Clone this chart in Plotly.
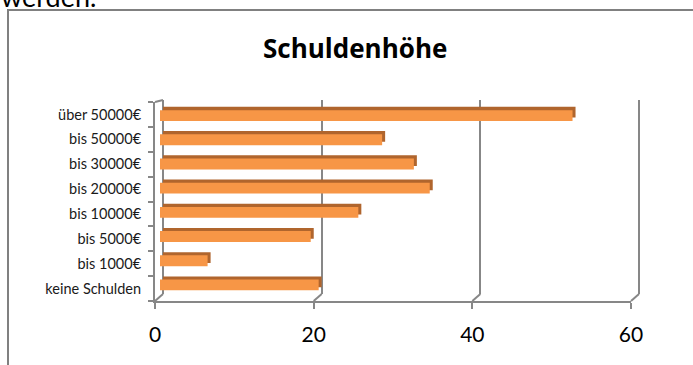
import plotly.graph_objects as go

# Debt level categories (bottom to top) and number of answers
categories = ["keine Schulden", "bis 1000€", "bis 5000€", "bis 10000€",
              "bis 20000€", "bis 30000€", "bis 50000€", "über 50000€"]
values = [20, 6, 19, 25, 34, 32, 28, 52]
x_ticks = [0, 20, 40, 60]

W, H = 693, 365
FONT = "Lato"
GREY = "#878787"
FACE = "#F79646"
DEPTH = "#B0652D"


def px(x):
    return x / W


def py(y):
    return 1 - y / H


X_MAX = 60
# front edge of the floor, back wall and bar planes (pixel spans)
FRONT_X = (155, 631)
BACK_X = (163, 639)
FRONT_Y = (301, 102)
BACK_Y = (294, 100)


def front_px(v):
    return FRONT_X[0] + (FRONT_X[1] - FRONT_X[0]) * v / X_MAX


def back_px(v):
    return BACK_X[0] + (BACK_X[1] - BACK_X[0]) * v / X_MAX


# the back wall range is padded a little so the edge grid lines are kept
PAD = 0.5

fig = go.Figure()

# invisible points so the front axes are laid out
fig.add_trace(go.Scatter(y=categories, x=values, mode="markers",
                         marker=dict(opacity=0), xaxis="x", yaxis="y",
                         hoverinfo="skip"))
# bar depth (top and side faces) on the back wall plane
fig.add_trace(go.Bar(y=categories, x=values, orientation="h",
                     marker=dict(color=DEPTH, line=dict(width=0)),
                     xaxis="x2", yaxis="y2", hoverinfo="skip"))
# bar front faces
fig.add_trace(go.Bar(y=categories, x=values, orientation="h",
                     marker=dict(color=FACE, line=dict(width=0)),
                     xaxis="x4", yaxis="y4"))

common_cat = dict(type="category", categoryorder="array", categoryarray=categories,
                  range=[-0.5, len(categories) - 0.5])

shapes = []
# outer frame
shapes.append(dict(type="rect", xref="paper", yref="paper",
                   x0=px(8), x1=px(720), y0=py(10), y1=py(400),
                   line=dict(color="#808080", width=2)))
# floor connectors from the front axis to the back wall
for v in x_ticks:
    shapes.append(dict(type="line", xref="paper", yref="paper",
                       x0=px(front_px(v)), y0=py(FRONT_Y[0]),
                       x1=px(back_px(v)), y1=py(BACK_Y[0]),
                       line=dict(color=GREY, width=2)))
# top edge of the side wall
shapes.append(dict(type="line", xref="paper", yref="paper",
                   x0=px(FRONT_X[0]), y0=py(FRONT_Y[1]),
                   x1=px(BACK_X[0]), y1=py(BACK_Y[1]),
                   line=dict(color=GREY, width=2)))

fig.update_layout(
    width=W, height=H,
    margin=dict(l=0, r=0, t=0, b=0, autoexpand=False),
    paper_bgcolor="white", plot_bgcolor="rgba(0,0,0,0)",
    showlegend=False,
    barmode="overlay",
    bargap=0.55,
    font=dict(family=FONT, color="#000000"),
    # front axis with value labels
    xaxis=dict(domain=[px(FRONT_X[0]), px(FRONT_X[1])], range=[0, X_MAX],
               tickvals=x_ticks, showgrid=False, zeroline=False,
               showline=True, linecolor=GREY, linewidth=2,
               ticks="outside", ticklen=6, tickwidth=2, tickcolor=GREY,
               tickfont=dict(size=21, family=FONT, color="#000000"),
               ticklabelstandoff=8, anchor="y", automargin=False),
    # side wall with category labels
    yaxis=dict(domain=[py(FRONT_Y[0]), py(FRONT_Y[1])], **common_cat,
               tickson="boundaries", ticks="outside", ticklen=5, tickwidth=2,
               tickcolor=GREY, showline=True, linecolor=GREY, linewidth=2,
               showgrid=False, zeroline=False,
               tickfont=dict(size=14.5, family=FONT, color="#1a1a1a"),
               ticklabelstandoff=9, anchor="x", automargin=False),
    # back wall grid (also carries the bar depth)
    xaxis2=dict(domain=[px(back_px(-PAD)), px(back_px(X_MAX + PAD))],
                range=[-PAD, X_MAX + PAD],
                tickvals=x_ticks, showgrid=True, gridcolor=GREY, gridwidth=2,
                zeroline=False, showticklabels=False, ticks="", showline=False,
                anchor="y2"),
    yaxis2=dict(domain=[py(BACK_Y[0]), py(BACK_Y[1])], **common_cat,
                showgrid=False, zeroline=False, showline=False,
                showticklabels=False, ticks="", anchor="x2"),
    # bar front plane
    xaxis4=dict(domain=[px(160), px(636)], range=[0, X_MAX], visible=False, anchor="y4"),
    yaxis4=dict(domain=[py(297), py(103.5)], **common_cat, visible=False, anchor="x4"),
    shapes=shapes,
    annotations=[
        dict(text="<b>Schuldenhöhe</b>", xref="paper", yref="paper",
             x=px(355), y=py(48), xanchor="center", yanchor="middle",
             showarrow=False, font=dict(size=26, family="Open Sans", color="#000000")),
        dict(text="werden.", xref="paper", yref="paper",
             x=px(-1), y=py(15), xanchor="left", yanchor="bottom",
             showarrow=False, font=dict(size=27, family=FONT, color="#000000")),
    ],
)

fig.write_html("out.html")
